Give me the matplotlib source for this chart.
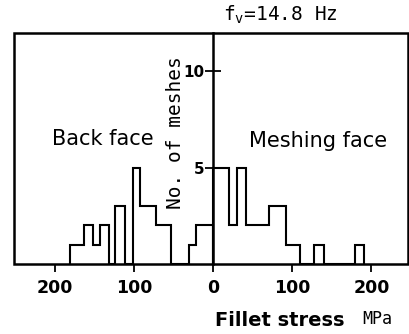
import numpy as np
import matplotlib
matplotlib.use("Agg")
import matplotlib.pyplot as plt
from matplotlib.patches import Rectangle

# back face (negative side of the axis), bin edges in MPa
back_edges = [-181, -163, -152, -143, -132, -124, -112, -102, -92, -72, -53, -31, -22, 0]
back_counts = [1, 2, 1, 2, 0, 3, 0, 5, 3, 2, 0, 1, 2]

# meshing face (positive side)
mesh_edges = [0, 20, 30, 41, 70, 92, 110, 128, 140, 179, 191]
mesh_counts = [5, 2, 5, 2, 3, 1, 0, 1, 0, 1]

xticks = [-200, -100, 0, 100, 200]
xtick_labels = ["200", "100", "0", "100", "200"]
yticks = [5, 10]

fig = plt.figure(figsize=(4.09, 3.34), dpi=100)
ax = fig.add_axes([0.0342, 0.2096, 0.9626, 0.6916])

ax.stairs(back_counts, back_edges, color="black", lw=1.5)
ax.stairs(mesh_counts, mesh_edges, color="black", lw=1.5)

ax.set_xlim(-252, 246)
ax.set_ylim(0, 12)

# frame + centre axis
for s in ["top", "right", "bottom"]:
    ax.spines[s].set_visible(False)
ax.spines["left"].set_position(("data", 0))
ax.spines["left"].set_linewidth(1.8)
ax.add_patch(Rectangle((0, 0), 1, 1, transform=ax.transAxes, fill=False,
                       lw=1.8, ec="black", clip_on=False))

ax.set_xticks(xticks)
ax.set_xticklabels(xtick_labels, fontsize=12.5, fontweight="bold")
ax.set_yticks(yticks)
ax.set_yticklabels([str(v) for v in yticks], fontsize=11, fontweight="bold")
ax.tick_params(axis="x", direction="out", length=6, width=1.3, pad=5)
ax.tick_params(axis="y", direction="inout", length=12, width=1.3, pad=0.5)

ax.text(-204, 6.5, "Back face", fontsize=15, ha="left", va="center")
ax.text(45, 6.4, "Meshing face", fontsize=15, ha="left", va="center")

fig.text(175.5 / 409, 1 - 133 / 334, "No. of meshes", family="DejaVu Sans Mono",
         fontsize=14, rotation=90, ha="center", va="center")
fig.text(223 / 409, 1 - 15 / 334, r"f$_\mathregular{v}$=14.8 Hz",
         family="DejaVu Sans Mono", fontsize=14, ha="left", va="center")
fig.text(215 / 409, 1 - 320 / 334, "Fillet stress", fontsize=14,
         fontweight="bold", ha="left", va="center")
fig.text(362 / 409, 1 - 319 / 334, "MPa", family="DejaVu Sans Mono",
         fontsize=12, ha="left", va="center")

fig.savefig("out.png", dpi=100)
